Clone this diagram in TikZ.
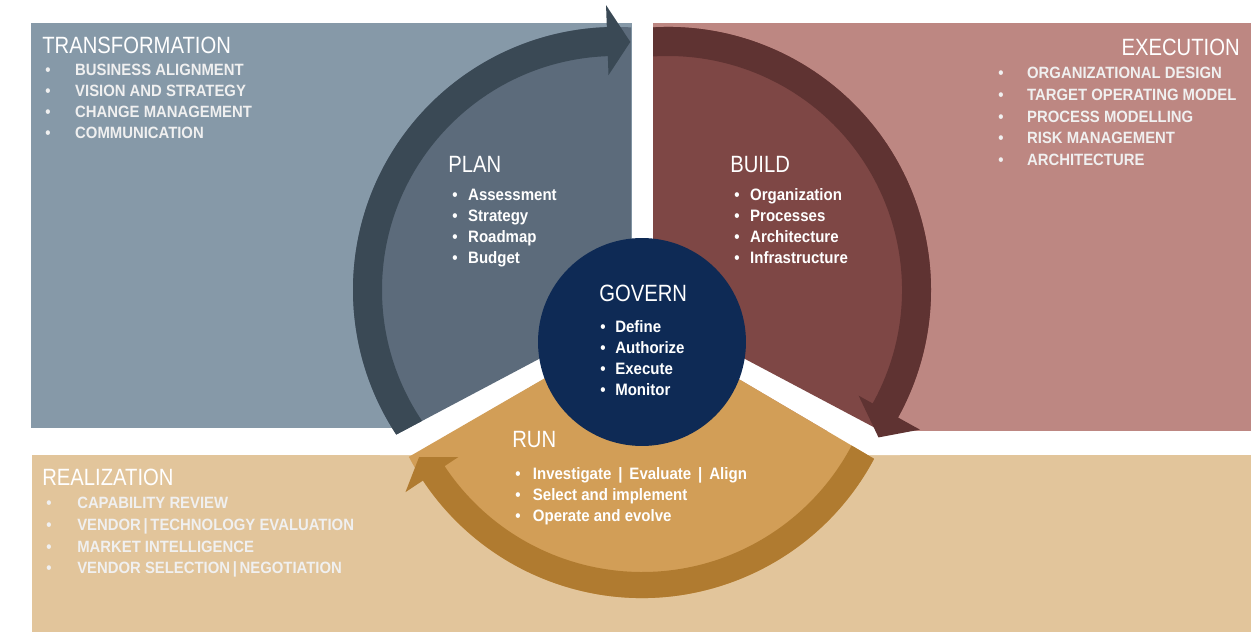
\documentclass[tikz,border=0pt]{standalone}
\usepackage{fontspec}
\setmainfont{Liberation Sans}
\newfontfamily\headfont{Liberation Sans}[FakeStretch=0.86]
\newfontfamily\listfont{Liberation Sans}[FakeStretch=0.91]
\usetikzlibrary{calc}

\definecolor{transbg}{HTML}{8699A8}
\definecolor{execbg}{HTML}{BD8782}
\definecolor{realbg}{HTML}{E2C59B}
\definecolor{planfill}{HTML}{5C6B7B}
\definecolor{planband}{HTML}{3A4955}
\definecolor{buildfill}{HTML}{7E4745}
\definecolor{buildband}{HTML}{5F3332}
\definecolor{runfill}{HTML}{D29E57}
\definecolor{runband}{HTML}{B07B30}
\definecolor{governbg}{HTML}{0E2A55}

\begin{document}
\begin{tikzpicture}[x=0.02cm,y=0.02cm,
    area/.style={font=\headfont\fontsize{13.4}{14}\selectfont,text=white,inner sep=0pt,anchor=base west},
    phase/.style={area},
    capitem/.style={font=\listfont\bfseries\fontsize{9.3}{10}\selectfont,text=white!88!gray,inner sep=0pt,anchor=base west},
    item/.style={font=\listfont\bfseries\fontsize{9.4}{10}\selectfont,text=white,inner sep=0pt,anchor=base west}]

  \useasboundingbox (0,0) rectangle (1252,-632);

  % background areas
  \fill[transbg] (31,-23) rectangle (632,-428);
  \fill[execbg] (653,-23) rectangle (1251,-431);
  \fill[realbg] (32,-455) rectangle (1251,-632);

  % white gaps between the phases
  \fill[white] (642,-300) -- (380,-443.2) -- (380,-455) -- (413,-455) -- (642,-322) -- cycle;
  \fill[white] (642,-300) -- (900,-441) -- (900,-455) -- (868,-455) -- (642,-322) -- cycle;

  % plan
  \begin{scope}
    \clip (0,20) -- (631,20) -- (631,-310.2) -- (0,-644.6) -- cycle;
    \coordinate (cp) at (616,-290);
    \fill[planfill] (640,-340) -- ($(cp)+(80:263)$) arc[start angle=80,end angle=230,radius=263] -- cycle;
    \fill[planband] ($(cp)+(230:263)$) arc[start angle=230,end angle=92,radius=263]
      -- ($(cp)+(92:285)$) -- ($(cp)+(86.7:248.5)$) -- ($(cp)+(92:215)$)
      -- ($(cp)+(92:234)$) arc[start angle=92,end angle=230,radius=234] -- cycle;
  \end{scope}

  % build
  \begin{scope}
    \clip (653,20) -- (1300,20) -- (1300,-653) -- (653,-310.2) -- cycle;
    \coordinate (cb) at (668,-290);
    \fill[buildfill] (644,-340) -- ($(cb)+(100:263)$) arc[start angle=100,end angle=-50,radius=263] -- cycle;
  \end{scope}
  \begin{scope}
    \clip (653,20) rectangle (1300,-700);
    \fill[buildband] ($(cb)+(100:263)$) arc[start angle=100,end angle=-29,radius=263]
      -- ($(cb)+(-29:288)$) -- ($(cb)+(-35:257)$) -- ($(cb)+(-29:218)$)
      -- ($(cb)+(-29:234)$) arc[start angle=-29,end angle=100,radius=234] -- cycle;
  \end{scope}

  % run
  \begin{scope}
    \clip (0,-693.3) -- (642,-322) -- (1300,-709.8) -- (1300,-800) -- (0,-800) -- cycle;
    \coordinate (cr) at (642,-335);
    \fill[runfill] (642,-250) -- ($(cr)+(200:263)$) arc[start angle=200,end angle=340,radius=263] -- cycle;
    \clip (0,-457) -- (470,-457) -- (470,100) -- (1300,100) -- (1300,-800) -- (0,-800) -- cycle;
    \fill[runband] ($(cr)+(-20:263)$) arc[start angle=-20,end angle=-146.4,radius=263]
      -- ($(cr)+(-146.4:284)$) -- ($(cr)+(-152.1:250)$) -- ($(cr)+(-146.4:216)$)
      -- ($(cr)+(-146.4:237)$) arc[start angle=-146.4,end angle=-20,radius=237] -- cycle;
  \end{scope}

  % govern
  \node[circle,fill=governbg,minimum size=4.16cm,inner sep=0pt] (govern) at (642,-342) {};

  % transformation
  \node[area] (transformation) at (42,-53) {TRANSFORMATION};
  \node[capitem] (trans1) at (45,-75) {\makebox[17pt][l]{\textbullet}BUSINESS ALIGNMENT};
  \node[capitem] (trans2) at (45,-96) {\makebox[17pt][l]{\textbullet}VISION AND STRATEGY};
  \node[capitem] (trans3) at (45,-117) {\makebox[17pt][l]{\textbullet}CHANGE MANAGEMENT};
  \node[capitem] (trans4) at (45,-138) {\makebox[17pt][l]{\textbullet}COMMUNICATION};

  % execution
  \node[area,anchor=base east] (execution) at (1240,-55) {EXECUTION};
  \node[capitem] (exec1) at (998,-78) {\makebox[16.4pt][l]{\textbullet}ORGANIZATIONAL DESIGN};
  \node[capitem] (exec2) at (998,-100) {\makebox[16.4pt][l]{\textbullet}TARGET OPERATING MODEL};
  \node[capitem] (exec3) at (998,-122) {\makebox[16.4pt][l]{\textbullet}PROCESS MODELLING};
  \node[capitem] (exec4) at (998,-143) {\makebox[16.4pt][l]{\textbullet}RISK MANAGEMENT};
  \node[capitem] (exec5) at (998,-165) {\makebox[16.4pt][l]{\textbullet}ARCHITECTURE};

  % realization
  \node[area] (realization) at (42,-485) {REALIZATION};
  \node[capitem] (real1) at (46,-508) {\makebox[17.6pt][l]{\textbullet}CAPABILITY REVIEW};
  \node[capitem] (real2) at (46,-530) {\makebox[17.6pt][l]{\textbullet}VENDOR\,|\,TECHNOLOGY EVALUATION};
  \node[capitem] (real3) at (46,-552) {\makebox[17.6pt][l]{\textbullet}MARKET INTELLIGENCE};
  \node[capitem] (real4) at (46,-573) {\makebox[17.6pt][l]{\textbullet}VENDOR SELECTION\,|\,NEGOTIATION};

  % plan text
  \node[phase] (plan) at (448,-172) {PLAN};
  \node[item] (plan1) at (452,-200) {\makebox[9pt][l]{\textbullet}Assessment};
  \node[item] (plan2) at (452,-221) {\makebox[9pt][l]{\textbullet}Strategy};
  \node[item] (plan3) at (452,-242) {\makebox[9pt][l]{\textbullet}Roadmap};
  \node[item] (plan4) at (452,-263) {\makebox[9pt][l]{\textbullet}Budget};

  % build text
  \node[phase] (build) at (730,-172) {BUILD};
  \node[item] (build1) at (734,-200) {\makebox[9pt][l]{\textbullet}Organization};
  \node[item] (build2) at (734,-221) {\makebox[9pt][l]{\textbullet}Processes};
  \node[item] (build3) at (734,-242) {\makebox[9pt][l]{\textbullet}Architecture};
  \node[item] (build4) at (734,-263) {\makebox[9pt][l]{\textbullet}Infrastructure};

  % govern text
  \node[phase] (governtitle) at (599,-301) {GOVERN};
  \node[item] (govern1) at (600,-332) {\makebox[8.5pt][l]{\textbullet}Define};
  \node[item] (govern2) at (600,-353) {\makebox[8.5pt][l]{\textbullet}Authorize};
  \node[item] (govern3) at (600,-374) {\makebox[8.5pt][l]{\textbullet}Execute};
  \node[item] (govern4) at (600,-395) {\makebox[8.5pt][l]{\textbullet}Monitor};

  % run text
  \node[phase] (run) at (512,-447) {RUN};
  \node[item] (run1) at (515,-479) {\makebox[10pt][l]{\textbullet}Investigate \,|\, Evaluate \,|\, Align};
  \node[item] (run2) at (515,-500) {\makebox[10pt][l]{\textbullet}Select and implement};
  \node[item] (run3) at (515,-521) {\makebox[10pt][l]{\textbullet}Operate and evolve};
\end{tikzpicture}
\end{document}
